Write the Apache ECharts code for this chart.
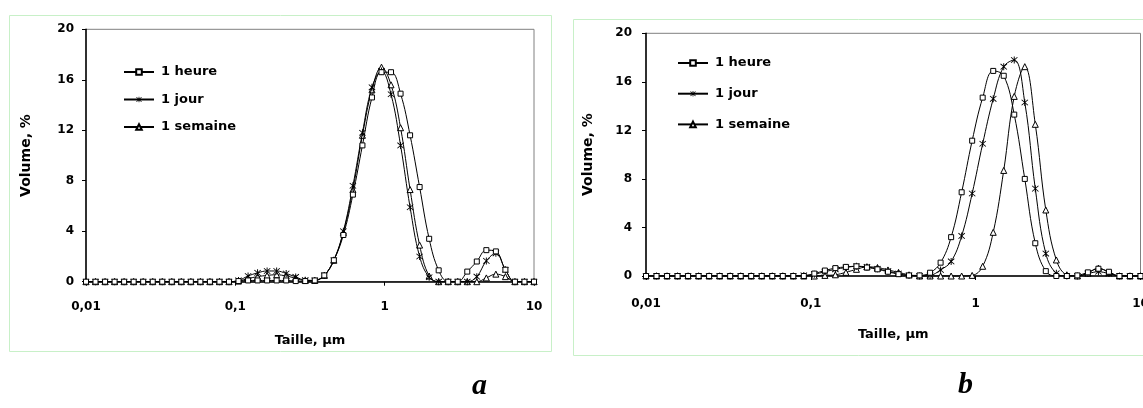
<!DOCTYPE html>
<html><head><meta charset="utf-8">
<script src="https://cdn.jsdelivr.net/npm/echarts@6/dist/echarts.min.js"></script>
<style>html,body{margin:0;padding:0;background:#fff}#c{width:1143px;height:408px}</style>
</head><body><div id="c"></div>
<script>
// particle size classes (µm), log-spaced
const sizes = [0.01, 0.01158, 0.01342, 0.01554, 0.01800, 0.02085, 0.02415, 0.02798, 0.03241, 0.03754,
  0.04347, 0.05037, 0.05834, 0.06758, 0.07828, 0.09067, 0.1050, 0.1217, 0.1409, 0.1632,
  0.1891, 0.2190, 0.2537, 0.2938, 0.3404, 0.3942, 0.4567, 0.5290, 0.6127, 0.7098,
  0.8221, 0.9522, 1.103, 1.278, 1.480, 1.714, 1.986, 2.300, 2.664, 3.086,
  3.574, 4.140, 4.796, 5.555, 6.434, 7.453, 8.633, 10];
const seriesNames = ['1 heure', '1 jour', '1 semaine'];
const panelLabels = ['a', 'b'];
const xTitle = 'Taille, μm';
const yTitle = 'Volume, %';
const yTicks = [0, 4, 8, 12, 16, 20];

// panel a
const aHeure = [0,0,0,0,0,0,0,0,0,0,0,0,0,0,0,0,
  0.05,0.1,0.1,0.1,0.1,0.1,0.05,0.05,0.1,0.5,1.7,3.7,6.9,10.8,14.6,16.6,16.6,14.9,11.6,7.5,3.4,0.9,0,0,0.8,1.6,2.5,2.4,0.95,0,0,0];
const aJour = [0,0,0,0,0,0,0,0,0,0,0,0,0,0,0,0,
  0.1,0.45,0.7,0.85,0.85,0.65,0.38,0.12,0.1,0.5,1.7,4.0,7.6,11.8,15.4,16.7,14.85,10.8,5.9,2.0,0.35,0,0,0,0,0.4,1.65,2.25,0.95,0,0,0];
const aSemaine = [0,0,0,0,0,0,0,0,0,0,0,0,0,0,0,0,
  0.05,0.25,0.4,0.5,0.55,0.45,0.28,0.1,0.1,0.5,1.7,3.9,7.3,11.6,15.2,17.0,15.6,12.2,7.3,2.9,0.45,0,0,0,0,0,0.3,0.6,0.4,0,0,0];

// panel b
const bHeure = [0,0,0,0,0,0,0,0,0,0,0,0,0,0,0,0,
  0.2,0.45,0.65,0.75,0.8,0.7,0.55,0.35,0.15,0.05,0.05,0.27,1.1,3.2,6.9,11.15,14.7,16.9,16.5,13.3,8.0,2.7,0.4,0,0,0.05,0.3,0.6,0.35,0,0,0];
const bJour = [0,0,0,0,0,0,0,0,0,0,0,0,0,0,0,0.05,
  0.15,0.35,0.55,0.7,0.8,0.75,0.6,0.4,0.2,0.05,0,0.05,0.5,1.2,3.3,6.8,10.9,14.6,17.25,17.8,14.3,7.2,1.85,0.22,0,0,0.2,0.35,0.2,0,0,0];
const bSemaine = [0,0,0,0,0,0,0,0,0,0,0,0,0,0,0,0,
  0,0.05,0.1,0.3,0.55,0.75,0.7,0.5,0.3,0.1,0,0,0,0,0,0.05,0.8,3.6,8.7,14.8,17.25,12.5,5.44,1.32,0.1,0,0.25,0.65,0.3,0,0,0];

const panels = [[aHeure, aJour, aSemaine], [bHeure, bJour, bSemaine]];

const FONT = 'DejaVu Sans';
const asterisk = 'path://M-0.6,-5L0.6,-5L0.6,5L-0.6,5Z M-4.4,-3.6L-3.6,-4.4L4.4,3.6L3.6,4.4Z M3.6,-4.4L4.4,-3.6L-3.6,4.4L-4.4,3.6Z';
const symbols = [
  {symbol: 'rect', symbolSize: 5, itemStyle: {color: '#fff', borderColor: '#000', borderWidth: 1}},
  {symbol: asterisk, symbolSize: 7, itemStyle: {color: '#000', borderColor: '#000', borderWidth: 0}},
  {symbol: 'triangle', symbolSize: 6, itemStyle: {color: '#fff', borderColor: '#000', borderWidth: 1}}
];

const grids = [
  {left: 86, top: 29.3, width: 448, height: 252.4, show: true, borderColor: '#808080', borderWidth: 1,
   backgroundColor: 'transparent', containLabel: false, outerBoundsMode: 'none'},
  {left: 646, top: 33.3, width: 494.5, height: 242.7, show: true, borderColor: '#808080', borderWidth: 1,
   backgroundColor: 'transparent', containLabel: false, outerBoundsMode: 'none'}
];
const yNameGap = [53, 51];
const yLabelMargin = [12, 14];
const xLabelMargin = [19, 22];
const xNameGap = [52, 52];

const xAxes = grids.map((g, k) => ({
  type: 'log', logBase: 10, min: 0.01, max: 10, gridIndex: k,
  name: xTitle, nameLocation: 'middle', nameGap: xNameGap[k],
  nameTextStyle: {fontFamily: FONT, fontWeight: 'bold', fontSize: 13, color: '#000'},
  axisLine: {lineStyle: {color: '#000', width: 1.5}},
  axisTick: {show: true, inside: false, length: 4, lineStyle: {color: '#000'}},
  axisLabel: {fontFamily: FONT, fontWeight: 'bold', fontSize: 12, color: '#000', margin: xLabelMargin[k],
    hideOverlap: false, formatter: v => String(+(+v).toPrecision(3)).replace('.', ',')},
  splitLine: {show: false}
}));
const yAxes = grids.map((g, k) => ({
  type: 'value', min: yTicks[0], max: yTicks[yTicks.length - 1], interval: 4, gridIndex: k,
  name: yTitle, nameLocation: 'middle', nameGap: yNameGap[k], nameRotate: 90,
  nameTextStyle: {fontFamily: FONT, fontWeight: 'bold', fontSize: 14, color: '#000'},
  axisLine: {show: true, lineStyle: {color: '#000', width: 1.5}},
  axisTick: {show: true, inside: false, length: 4, lineStyle: {color: '#000'}},
  axisLabel: {fontFamily: FONT, fontWeight: 'bold', fontSize: 12, color: '#000', margin: yLabelMargin[k]},
  splitLine: {show: false}
}));

const series = [];
panels.forEach((vals, k) => {
  vals.forEach((arr, s) => {
    series.push(Object.assign({
      type: 'line', name: seriesNames[s], xAxisIndex: k, yAxisIndex: k,
      data: sizes.map((x, i) => [x, arr[i]]),
      smooth: 0.4, showAllSymbol: true,
      lineStyle: {color: '#000', width: 1},
      emphasis: {disabled: true}, animation: false, z: 3 - s
    }, symbols[s]));
  });
});

const legendBase = {
  orient: 'vertical', data: seriesNames, itemWidth: 30, itemHeight: 7, padding: 0,
  selectedMode: false,
  textStyle: {fontFamily: FONT, fontWeight: 'bold', fontSize: 13, color: '#000', lineHeight: 16, padding: [0, 0, 0, 2]}
};
const legends = [
  Object.assign({}, legendBase, {left: 123, top: 64, itemGap: 11.5}),
  Object.assign({}, legendBase, {left: 677, top: 55, itemGap: 14.7})
];

const chart = echarts.init(document.getElementById('c'), null, {renderer: 'canvas'});
chart.setOption({
  animation: false,
  backgroundColor: '#fff',
  grid: grids, xAxis: xAxes, yAxis: yAxes, series: series, legend: legends,
  graphic: [
    {type: 'rect', shape: {x: 9.5, y: 15.5, width: 542, height: 336}, style: {fill: 'none', stroke: '#c8f0c8', lineWidth: 1}, z: -10},
    {type: 'rect', shape: {x: 573.5, y: 19.5, width: 600, height: 336}, style: {fill: 'none', stroke: '#c8f0c8', lineWidth: 1}, z: -10},
    {type: 'text', left: 472, top: 371, style: {text: panelLabels[0], font: 'italic bold 30px "Liberation Serif"', fill: '#000'}},
    {type: 'text', left: 958, top: 370, style: {text: panelLabels[1], font: 'italic bold 30px "Liberation Serif"', fill: '#000'}}
  ]
});
</script>
</body></html>
